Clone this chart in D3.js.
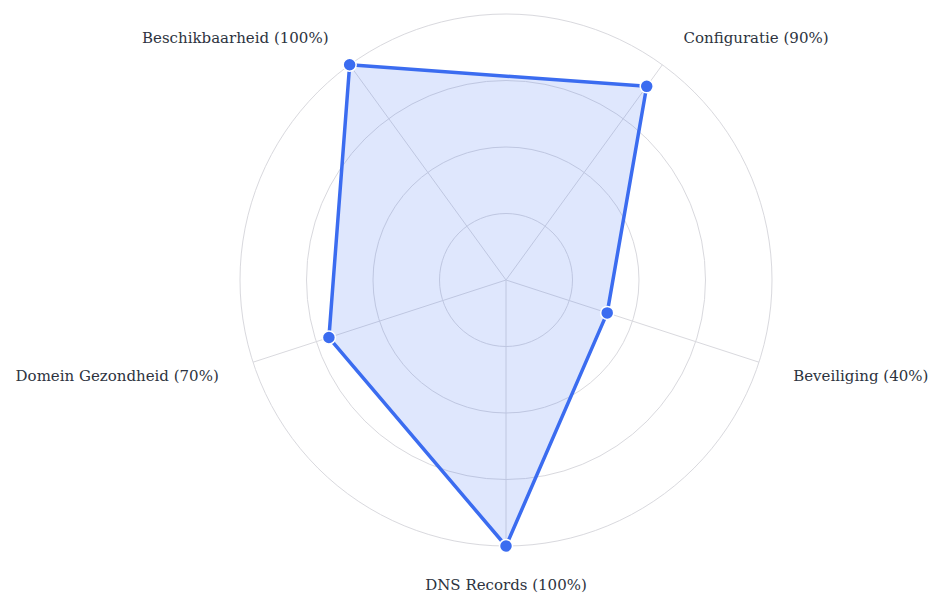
<!DOCTYPE html>
<html>
<head>
<meta charset="utf-8">
<script src="https://cdn.jsdelivr.net/npm/d3@7"></script>
<style>
  html, body { margin: 0; padding: 0; background: #fff; }
</style>
</head>
<body>
<div id="vis"></div>
<script>
const categories = ["Beschikbaarheid", "Configuratie", "Beveiliging", "DNS Records", "Domein Gezondheid"];
const scores = [100, 90, 40, 100, 70];
const gridLevels = [25, 50, 75, 100];

const svg = d3.select("#vis")
    .append("svg")
    .attr("width", 938)
    .attr("height", 599);

const cx = 506, cy = 280, radius = 266;
const startAngle = -36 * Math.PI / 180;

const r = d3.scaleLinear().domain([0, 100]).range([0, radius]);
const angle = d3.scalePoint()
    .domain(categories)
    .range([startAngle, startAngle + 2 * Math.PI * (categories.length - 1) / categories.length]);

const g = svg.append("g").attr("transform", `translate(${cx},${cy})`);

// grid rings
g.selectAll("circle.ring")
    .data(gridLevels)
    .enter()
    .append("circle")
    .attr("class", "ring")
    .attr("r", d => r(d))
    .attr("fill", "none")
    .attr("stroke", "#d9d9de")
    .attr("stroke-width", 1);

// spokes
g.selectAll("line.spoke")
    .data(categories)
    .enter()
    .append("line")
    .attr("x1", 0).attr("y1", 0)
    .attr("x2", d => r(100) * Math.sin(angle(d)))
    .attr("y2", d => -r(100) * Math.cos(angle(d)))
    .attr("stroke", "#d9d9de")
    .attr("stroke-width", 1);

const points = categories.map((c, i) => [angle(c), r(scores[i])]);

const radial = d3.lineRadial()
    .angle(d => d[0])
    .radius(d => d[1])
    .curve(d3.curveLinearClosed);

g.append("path")
    .datum(points)
    .attr("d", radial)
    .attr("fill", "rgba(59,108,240,0.16)")
    .attr("stroke", "#3b6cf0")
    .attr("stroke-width", 3.5)
    .attr("stroke-linejoin", "round");

g.selectAll("circle.dot")
    .data(points)
    .enter()
    .append("circle")
    .attr("class", "dot")
    .attr("cx", d => d[1] * Math.sin(d[0]))
    .attr("cy", d => -d[1] * Math.cos(d[0]))
    .attr("r", 6.5)
    .attr("fill", "#3b6cf0")
    .attr("stroke", "#fff")
    .attr("stroke-width", 1.5);

// labels
g.selectAll("text.label")
    .data(categories)
    .enter()
    .append("text")
    .attr("class", "label")
    .attr("x", d => (r(100) + 36) * Math.sin(angle(d)))
    .attr("y", d => -(r(100) + 36) * Math.cos(angle(d)) + 2.5)
    .attr("text-anchor", d => {
        const s = Math.sin(angle(d));
        return Math.abs(s) < 0.1 ? "middle" : (s > 0 ? "start" : "end");
    })
    .attr("dominant-baseline", "central")
    .attr("font-family", "DejaVu Serif")
    .attr("font-size", 15)
    .attr("fill", "#2d3340")
    .text((d, i) => `${d} (${scores[i]}%)`);
</script>
</body>
</html>
